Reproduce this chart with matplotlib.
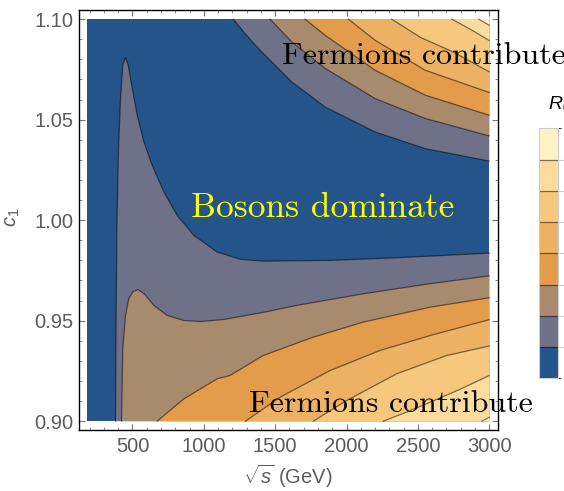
import matplotlib
matplotlib.use("Agg")
import matplotlib.pyplot as plt
from matplotlib.colors import ListedColormap, BoundaryNorm
from matplotlib.cm import ScalarMappable
from matplotlib.ticker import MultipleLocator

plt.rcParams['font.family'] = ['Liberation Sans', 'DejaVu Sans']
plt.rcParams['mathtext.fontset'] = 'custom'
plt.rcParams['mathtext.rm'] = 'Liberation Sans'
plt.rcParams['mathtext.it'] = 'Liberation Sans:italic'

# plotted domain
s_domain = [182, 3000]
c1_domain = [0.90, 1.10]

# band colours, lowest R0 first
band_colors = ['#245489', '#6f7188', '#a88a6c', '#e39c4b',
               '#edb163', '#f6c87d', '#fcdc9c', '#fff3c5']

# contour lines, (sqrt_s, c1)
# lower family: start on the bottom edge, end on the right edge
low1 = [(381, 0.900), (385, 0.9526), (392, 1.0024), (402, 1.0358),
        (416, 1.0607), (432, 1.0771), (451, 1.0809), (470, 1.0771),
        (498, 1.0656), (533, 1.0522), (580, 1.0389), (638, 1.0273),
        (720, 1.0140), (813, 1.0024), (930, 0.9924), (1094, 0.9841),
        (1258, 0.9805), (1417, 0.9796), (1885, 0.9800), (2352, 0.9813),
        (3000, 0.9836)]
low2 = [(423, 0.900), (432, 0.9362), (451, 0.9526), (474, 0.9611),
        (505, 0.9645), (538, 0.9655), (580, 0.9635), (650, 0.9576),
        (743, 0.9526), (860, 0.9501), (977, 0.9496), (1141, 0.9506),
        (1422, 0.9542), (1651, 0.9576), (2118, 0.9634), (2586, 0.9684),
        (3000, 0.9723)]
low3 = [(673, 0.900), (860, 0.9111), (1094, 0.9211), (1183, 0.9227),
        (1417, 0.9327), (1767, 0.9418), (2118, 0.9493), (2586, 0.9567),
        (3000, 0.9614)]
low4 = [(1292, 0.900), (1534, 0.9119), (1885, 0.9252), (2235, 0.9352),
        (2586, 0.9426), (3000, 0.9505)]
low5 = [(1767, 0.900), (2002, 0.9103), (2352, 0.9236), (2703, 0.9327),
        (3000, 0.9374)]
low6 = [(2258, 0.900), (2420, 0.9045), (2586, 0.9094), (2800, 0.9160),
        (3000, 0.9227)]
low7 = [(2949, 0.900), (3000, 0.9019)]

# upper family: start on the top edge, end on the right edge
up1 = [(1206, 1.100), (1288, 1.0929), (1382, 1.0854), (1616, 1.0688),
       (1850, 1.0563), (2200, 1.0439), (2551, 1.0356), (3000, 1.0294)]
up2 = [(1464, 1.100), (1616, 1.0887), (1850, 1.0755), (2200, 1.0605),
       (2551, 1.0506), (3000, 1.0419)]
up3 = [(1709, 1.100), (1850, 1.0920), (2200, 1.0746), (2551, 1.0622),
       (3000, 1.0522)]
up4 = [(2013, 1.100), (2200, 1.0895), (2551, 1.0746), (3000, 1.0635)]
up5 = [(2317, 1.100), (2516, 1.0910), (2750, 1.0836), (3000, 1.0738)]
up6 = [(2738, 1.100), (2867, 1.0950), (3000, 1.0894)]
up7 = [(2926, 1.100), (3000, 1.0970)]

lower_lines = [low1, low2, low3, low4, low5, low6, low7]
upper_lines = [up1, up2, up3, up4, up5, up6, up7]

fig = plt.figure(figsize=(5.64, 4.91), dpi=100)
ax = fig.add_axes([0.1395, 0.1242, 0.7429, 0.8548])

x0, x1 = s_domain
y0, y1 = c1_domain
ax.fill([x0, x1, x1, x0], [y0, y0, y1, y1], color=band_colors[0], lw=0)

# superlevel sets are nested, so paint them in increasing order
for k in range(7):
    lo = lower_lines[k]
    up = upper_lines[k]
    pts = lo + [(x1, y0)]
    ax.fill([p[0] for p in pts], [p[1] for p in pts],
            color=band_colors[k + 1], lw=0)
    pts = up + [(x1, y1)]
    ax.fill([p[0] for p in pts], [p[1] for p in pts],
            color=band_colors[k + 1], lw=0)

for line in lower_lines + upper_lines:
    ax.plot([p[0] for p in line], [p[1] for p in line],
            color='black', alpha=0.5, lw=0.9)

pad_x = 0.021 * (x1 - x0)
pad_y = 0.022 * (y1 - y0)
ax.set_xlim(x0 - pad_x, x1 + pad_x)
ax.set_ylim(y0 - pad_y, y1 + pad_y)

ax.xaxis.set_major_locator(MultipleLocator(500))
ax.xaxis.set_minor_locator(MultipleLocator(100))
ax.yaxis.set_major_locator(MultipleLocator(0.05))
ax.yaxis.set_minor_locator(MultipleLocator(0.01))
ax.yaxis.set_major_formatter(lambda v, p: f'{v:.2f}')
ax.tick_params(which='both', direction='in', top=True, right=True,
               color='#777777', labelcolor='#5c5c5c', labelsize=14.5)
ax.tick_params(which='major', length=4, width=0.8)
ax.tick_params(which='minor', length=2, width=0.6)
ax.tick_params(axis='x', pad=5)
ax.tick_params(axis='y', pad=3.5)
for sp in ax.spines.values():
    sp.set_linewidth(1.0)
    sp.set_color('black')

ax.set_xlabel(r'$\sqrt{s}$ (GeV)', fontsize=14.5, color='#5c5c5c')
ax.xaxis.set_label_coords(0.498, -0.078)
ax.set_ylabel(r'$c_1$', fontsize=14.5, color='#5c5c5c')
ax.yaxis.set_label_coords(-0.136, 0.5075)

ax.text(1318, 0.9044, 'Fermions contribute', family='cmr10',
        fontsize=23, color='black', va='baseline', ha='left')
ax.text(1546, 1.0779, 'Fermions contribute', family='cmr10',
        fontsize=23, color='black', va='baseline', ha='left')
ax.text(912, 1.0016, 'Bosons dominate', family='cmr10',
        fontsize=25.5, color='#ffff00', va='baseline', ha='left')

# legend bar
cax = fig.add_axes([0.9562, 0.2295, 0.0337, 0.5092])
sm = ScalarMappable(norm=BoundaryNorm(range(9), 8),
                    cmap=ListedColormap(band_colors))
cbar = fig.colorbar(sm, cax=cax, drawedges=True)
cbar.dividers.set_color('black')
cbar.dividers.set_alpha(0.5)
cbar.dividers.set_linewidth(0.9)
cbar.outline.set_edgecolor('#cccccc')
cbar.outline.set_linewidth(0.8)
cax.yaxis.set_ticks(range(1, 8))
cax.yaxis.set_ticklabels([])
cax.tick_params(length=10, color='#cccccc', width=0.8)
fig.text(0.9716, 0.788, r'$R_0$', fontsize=14, va='center', ha='left')

fig.savefig('out.png', dpi=100)
